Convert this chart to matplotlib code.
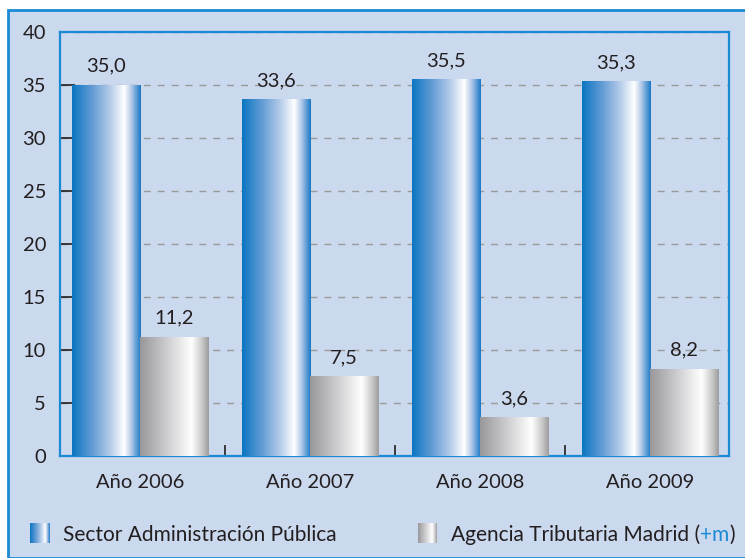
import matplotlib
matplotlib.use("Agg")
import matplotlib.pyplot as plt
import numpy as np
from matplotlib.colors import LinearSegmentedColormap
from matplotlib.patches import Rectangle

categories = ["Año 2006", "Año 2007", "Año 2008", "Año 2009"]
sector = [35.0, 33.6, 35.5, 35.3]
agencia = [11.2, 7.5, 3.6, 8.2]
series_names = ["Sector Administración Pública", "Agencia Tributaria Madrid ("]
yticks = [0, 5, 10, 15, 20, 25, 30, 35, 40]

plt.rcParams['font.family'] = ['Lato', 'DejaVu Sans']
BG = "#cad9ee"
SPINE = "#1a8ad4"
TEXT = "#231f20"

blue_cmap = LinearSegmentedColormap.from_list("b", [
    (0.0, "#0a76c2"), (0.3, "#659dd5"), (0.55, "#b3cbe9"), (0.76, "#ffffff"),
    (0.86, "#b4cbe9"), (1.0, "#1a78c6")])
gray_cmap = LinearSegmentedColormap.from_list("g", [
    (0.0, "#98989a"), (0.4, "#cfcfd1"), (0.75, "#ffffff"),
    (0.9, "#cacaca"), (1.0, "#9c9c9e")])
grad = np.linspace(0, 1, 256).reshape(1, -1)

fig = plt.figure(figsize=(7.45, 5.58), dpi=100)
fig.patch.set_facecolor("white")
fig.patches.append(Rectangle((8/745, 0), 1, 1 - 10/558, transform=fig.transFigure,
                             facecolor=BG, edgecolor=SPINE, linewidth=2, zorder=-10))

ax = fig.add_axes([60/745, 1 - 456/558, (729-60)/745, (456-32)/558])
ax.set_facecolor(BG)
x = np.arange(len(categories))
w = 0.4
b1 = ax.bar(x - w/2, sector, w, color="none", zorder=3)
b2 = ax.bar(x + w/2, agencia, w, color="none", zorder=3)
for bars, cmap in ((b1, blue_cmap), (b2, gray_cmap)):
    for r in bars:
        x0, wd, h = r.get_x(), r.get_width(), r.get_height()
        ax.imshow(grad, cmap=cmap, aspect="auto", extent=(x0, x0 + wd, 0, h),
                  zorder=3, interpolation="bilinear")
for bars, vals in ((b1, sector), (b2, agencia)):
    for r, v in zip(bars, vals):
        ax.text(r.get_x() + r.get_width()/2, v + 1.0, f"{v:.1f}".replace(".", ","),
                ha="center", va="bottom", fontsize=14.5, color=TEXT, zorder=4)

ax.set_xlim(-0.47, 3.465)
ax.set_ylim(0, 40)
ax.set_yticks(yticks)
ax.set_xticks(x)
ax.set_xticklabels(categories, fontsize=14.5, color=TEXT)
ax.set_xticks([0.5, 1.5, 2.5], minor=True)
ax.tick_params(axis="x", which="major", length=0, pad=13)
ax.tick_params(axis="x", which="minor", direction="in", length=8, width=1.2, color=TEXT)
ax.tick_params(axis="y", direction="in", length=11, width=1.2, color=TEXT,
               labelsize=14.5, labelcolor=TEXT, pad=10)
ax.yaxis.grid(True, linestyle=(0, (5, 5)), color="#9a9a9a", linewidth=1, zorder=1)
ax.set_axisbelow(True)
for s in ax.spines.values():
    s.set_color(SPINE)
    s.set_linewidth(1.6)

# legend
for (px, cmap, label) in ((30, blue_cmap, series_names[0]), (418, gray_cmap, series_names[1])):
    lax = fig.add_axes([px/745, 1 - 543/558, 19/745, 20/558])
    lax.imshow(grad, cmap=cmap, aspect="auto", interpolation="bilinear")
    lax.axis("off")
    t = fig.text((px + 33)/745, 1 - 535/558, label, fontsize=15, color=TEXT, va="center")
fig.canvas.draw()
bb = t.get_window_extent()
t2 = fig.text(bb.x1/745, 1 - 535/558, "+m", fontsize=15, color="#1a8ad4", va="center")
fig.canvas.draw()
bb2 = t2.get_window_extent()
fig.text(bb2.x1/745, 1 - 535/558, ")", fontsize=15, color=TEXT, va="center")

fig.savefig("out.png", dpi=100, facecolor=fig.get_facecolor())
